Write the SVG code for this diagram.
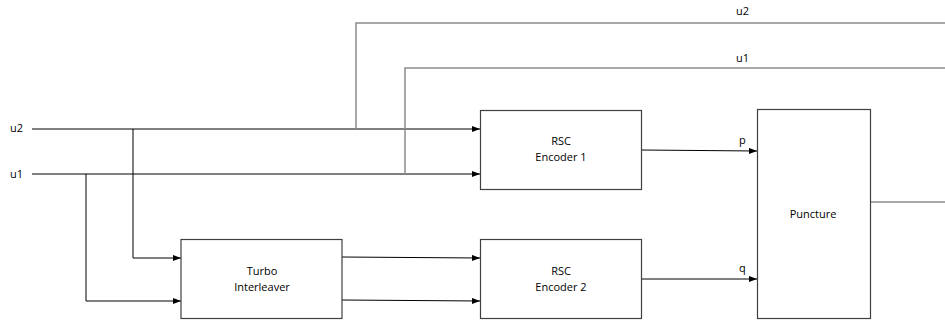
<svg xmlns="http://www.w3.org/2000/svg" width="945" height="320" viewBox="0 0 945 320">
<defs>
<marker id="ah" markerWidth="8" markerHeight="6" refX="8" refY="3" orient="auto" markerUnits="userSpaceOnUse">
<path d="M0,0 L8,3 L0,6 z" fill="#000"/>
</marker>
<style>
.box{fill:#fff;stroke:#404040;stroke-width:1.2}
.ln{fill:none;stroke:#000;stroke-width:1}
.gl{fill:none;stroke:#8c8c8c;stroke-width:1.5}
.t{font-family:"Open Sans","Liberation Sans",sans-serif;font-size:11px;fill:#000}
.c{text-anchor:middle}
</style>
</defs>
<rect width="945" height="320" fill="#fff"/>
<g id="connectors">
<path class="ln" d="M32,129 H480" marker-end="url(#ah)"/>
<path class="ln" d="M32,174 H480" marker-end="url(#ah)"/>
<path class="ln" d="M133,129 V258 H181" marker-end="url(#ah)"/>
<path class="ln" d="M86,174 V301 H181" marker-end="url(#ah)"/>
<path class="gl" d="M356,129 V23 H945"/>
<path class="gl" d="M405,174 V68 H945"/>
<path class="ln" d="M342,257 L480,258" marker-end="url(#ah)"/>
<path class="ln" d="M342,300 L480,301" marker-end="url(#ah)"/>
<path class="ln" d="M641,150 L757,151" marker-end="url(#ah)"/>
<path class="ln" d="M641,279 L757,279" marker-end="url(#ah)"/>
<path class="gl" d="M870,202 H945"/>
<text class="t" x="10" y="132">u2</text>
<text class="t" x="10" y="178">u1</text>
<text class="t" x="736" y="15">u2</text>
<text class="t" x="736" y="62">u1</text>
<text class="t" x="739" y="144">p</text>
<text class="t" x="739" y="272">q</text>
</g>
<g id="turbo-interleaver">
<rect class="box" x="181" y="239.5" width="161" height="79"/>
<text class="t c" x="262" y="275">Turbo</text>
<text class="t c" x="262" y="291">Interleaver</text>
</g>
<g id="rsc-encoder-1">
<rect class="box" x="480.5" y="110.5" width="161" height="79"/>
<text class="t c" x="561" y="145">RSC</text>
<text class="t c" x="561" y="161">Encoder 1</text>
</g>
<g id="rsc-encoder-2">
<rect class="box" x="480.5" y="239.5" width="161" height="79"/>
<text class="t c" x="561" y="275">RSC</text>
<text class="t c" x="561" y="291">Encoder 2</text>
</g>
<g id="puncture">
<rect class="box" x="757.5" y="109.5" width="113" height="209"/>
<text class="t c" x="813" y="218">Puncture</text>
</g>
</svg>
